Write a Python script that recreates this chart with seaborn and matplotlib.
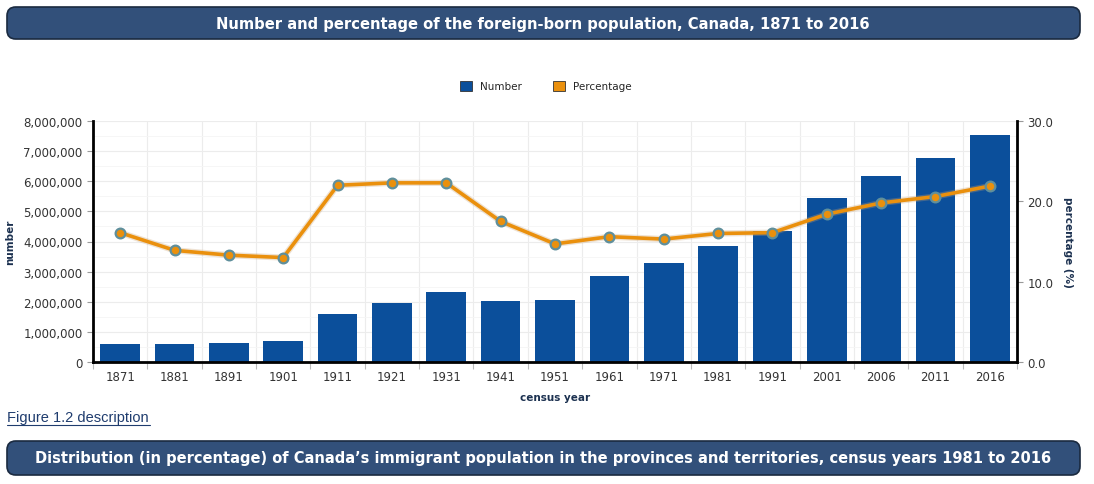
import pandas as pd
import numpy as np
import matplotlib
matplotlib.use('Agg')
import matplotlib.pyplot as plt
import seaborn as sns
from matplotlib.patches import FancyBboxPatch, Patch
from matplotlib.ticker import FuncFormatter, MultipleLocator

# Datos (población nacida en el extranjero, Canadá)
years = ['1871', '1881', '1891', '1901', '1911', '1921', '1931', '1941', '1951',
         '1961', '1971', '1981', '1991', '2001', '2006', '2011', '2016']
number = [594207, 602984, 643871, 699500, 1586961, 1955725, 2307525, 2018847, 2059911,
          2844263, 3295530, 3843335, 4342890, 5448480, 6186950, 6775765, 7540830]
percentage = [16.1, 13.9, 13.3, 13.0, 22.0, 22.3, 22.3, 17.5, 14.7,
              15.6, 15.3, 16.0, 16.1, 18.4, 19.8, 20.6, 21.9]

df = pd.DataFrame({'year': years, 'number': number, 'percentage': percentage})

BLUE = '#0b4f9b'
ORANGE = '#ea900d'
NAVY = '#1c3150'
BANNER = '#32507a'

sns.set_theme(style='white')
plt.rcParams['font.family'] = ['DejaVu Sans']

fig = plt.figure(figsize=(10.94, 4.85), dpi=100)
W, H = 1094, 485
ax = fig.add_axes([93 / W, 1 - 363 / H, (1017 - 93) / W, (363 - 122) / H])

sns.barplot(data=df, x='year', y='number', color=BLUE, width=0.73, ax=ax,
            saturation=1, linewidth=0, zorder=2)

ax2 = ax.twinx()
ax2.plot(np.arange(len(years)), df['percentage'], color='#c8a070', lw=4.5,
         alpha=0.3, zorder=2, solid_capstyle='round')
sns.lineplot(x=np.arange(len(years)), y=df['percentage'], color=ORANGE, lw=2.6,
             marker='o', markersize=7, markerfacecolor=ORANGE,
             markeredgecolor='#5f8f9c', markeredgewidth=1.6, ax=ax2, zorder=3)

ax.set_ylim(0, 8000000)
ax2.set_ylim(0, 30)
ax.set_xlim(-0.5, len(years) - 0.5)
ax2.set_xlim(-0.5, len(years) - 0.5)

ax.yaxis.set_major_locator(MultipleLocator(1000000))
ax.yaxis.set_minor_locator(MultipleLocator(500000))
ax.yaxis.set_major_formatter(FuncFormatter(lambda v, p: f'{int(v):,}'))
ax2.yaxis.set_major_locator(MultipleLocator(10))
ax2.yaxis.set_major_formatter(FuncFormatter(lambda v, p: f'{v:.1f}'))

# rejilla
ax.set_xticks(np.arange(len(years)))
ax.set_xticks(np.arange(len(years) + 1) - 0.5, minor=True)
ax.grid(True, which='major', axis='y', color='#ececec', lw=0.8, zorder=0)
ax.grid(True, which='minor', axis='y', color='#f5f5f5', lw=0.6, zorder=0)
ax.grid(True, which='minor', axis='x', color='#ececec', lw=0.8, zorder=0)
ax.set_axisbelow(True)

for a in (ax, ax2):
    for s in a.spines.values():
        s.set_visible(False)
for a, side in ((ax, 'left'), (ax, 'bottom'), (ax2, 'right')):
    a.spines[side].set_visible(True)
    a.spines[side].set_color('black')
    a.spines[side].set_linewidth(2)

ax.tick_params(axis='y', which='major', labelsize=8.5, colors='#333333', length=4,
               width=0.8, left=True, color='#999999')
ax.tick_params(axis='y', which='minor', left=False)
ax.tick_params(axis='x', which='major', labelsize=8.5, colors='#333333', length=0, pad=6)
ax.tick_params(axis='x', which='minor', length=5, width=0.8, bottom=True, color='#bbbbbb')
ax2.tick_params(axis='y', labelsize=8.5, colors='#333333', length=4, width=0.8,
                right=True, color='#999999')

ax.set_xlabel('census year', fontsize=7.5, fontweight='bold', color=NAVY, labelpad=6)
ax.set_ylabel('number', fontsize=7.5, fontweight='bold', color=NAVY, labelpad=6)
ax2.set_ylabel('percentage (%)', fontsize=7.5, fontweight='bold', color=NAVY,
               rotation=270, labelpad=14)

# leyenda
handles = [Patch(facecolor=BLUE, edgecolor='#333333', lw=0.6, label='Number'),
           Patch(facecolor=ORANGE, edgecolor='#333333', lw=0.6, label='Percentage')]
fig.legend(handles=handles, loc='center', bbox_to_anchor=(546 / W, 1 - 87 / H), ncol=2,
           frameon=False, fontsize=7.5, handlelength=1.1, handleheight=1.1,
           columnspacing=3, handletextpad=0.8)

# banners de título
def banner(y0, y1, text, size):
    box = FancyBboxPatch((7 / W, 1 - y1 / H), (1080 - 7) / W, (y1 - y0) / H,
                         boxstyle='round,pad=0,rounding_size=0.008',
                         transform=fig.transFigure, facecolor=BANNER,
                         edgecolor='#1a2a40', lw=1.2, mutation_aspect=W / H)
    fig.patches.append(box)
    fig.text(543 / W, 1 - (y0 + y1) / 2 / H, text, ha='center', va='center',
             color='white', fontsize=size, fontweight='bold')

banner(8, 40, 'Number and percentage of the foreign-born population, Canada, 1871 to 2016', 10.6)
banner(442, 476, 'Distribution (in percentage) of Canada\u2019s immigrant population in the '
                 'provinces and territories, census years 1981 to 2016', 10.5)

fig.text(7 / W, 1 - 418 / H, 'Figure 1.2 description', ha='left', va='center',
         color='#1f3c6e', fontsize=10.5, family=['Liberation Sans', 'DejaVu Sans'])
fig.add_artist(plt.Line2D([7 / W, 150 / W], [1 - 426 / H, 1 - 426 / H],
                          color='#1f3c6e', lw=0.8, transform=fig.transFigure))

fig.savefig('out.png', dpi=100)
